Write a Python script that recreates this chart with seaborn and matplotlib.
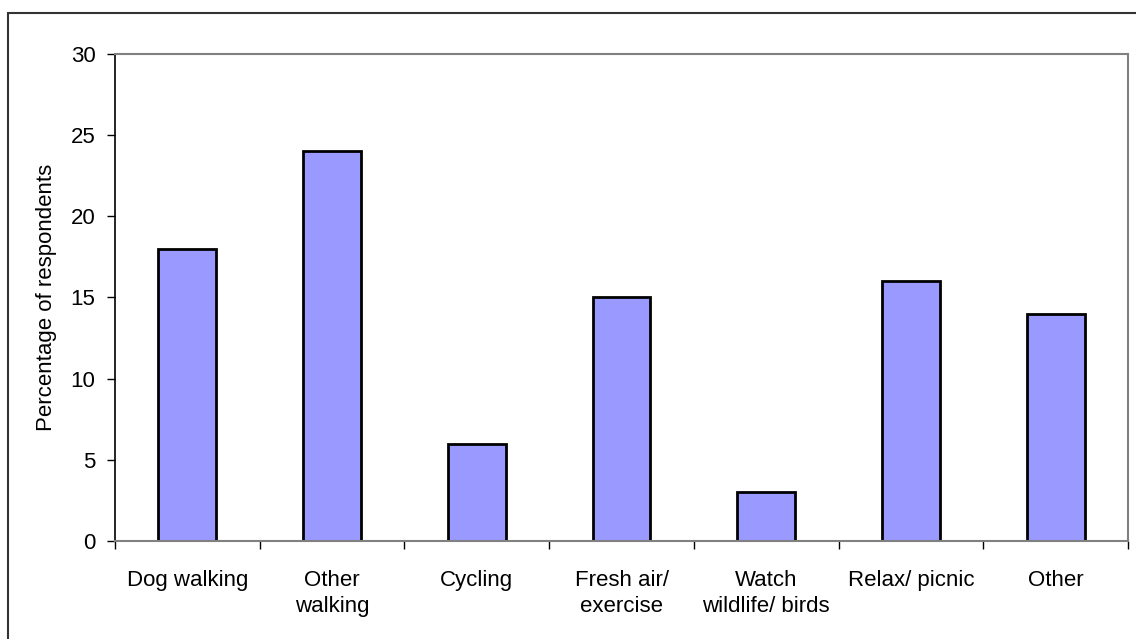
import seaborn as sns
import matplotlib.pyplot as plt
import matplotlib.patches as mpatches
import pandas as pd

# -----------------------------
# Data
# -----------------------------
activities = ["Dog walking", "Other\nwalking", "Cycling", "Fresh air/\nexercise",
              "Watch\nwildlife/ birds", "Relax/ picnic", "Other"]
percent = [18, 24, 6, 15, 3, 16, 14]

df = pd.DataFrame({"Activity": activities, "Percent": percent})

# -----------------------------
# Styling
# -----------------------------
sns.set_style("white")
plt.rcParams["font.family"] = ["Liberation Sans", "DejaVu Sans"]
plt.rcParams["text.color"] = "black"
plt.rcParams["axes.labelcolor"] = "black"
plt.rcParams["xtick.color"] = "black"
plt.rcParams["ytick.color"] = "black"

fig = plt.figure(figsize=(11.36, 6.39), dpi=100)
ax = fig.add_axes([0.1012, 0.1534, 0.8918, 0.7621])

sns.barplot(data=df, x="Activity", y="Percent", color="#9999FF",
            saturation=1, width=0.4, edgecolor="black", linewidth=2, ax=ax)

ax.set_ylim(0, 30)
ax.set_xlim(-0.5, len(activities) - 0.5)
ax.set_yticks(range(0, 31, 5))
ax.set_xlabel("")
ax.set_ylabel("Percentage of respondents", fontsize=16, labelpad=10)

# category labels without ticks, ticks on the boundaries
ax.tick_params(axis="x", which="major", length=0, labelsize=16, pad=21)
ax.set_xticks([i - 0.5 for i in range(len(activities) + 1)], minor=True)
ax.tick_params(axis="x", which="minor", length=6, width=1, direction="out",
               color="black", bottom=True)
ax.tick_params(axis="y", length=6, width=1, direction="out", left=True,
               labelsize=16, pad=8, color="black")
for lbl in ax.get_xticklabels():
    lbl.set_linespacing(1.3)

for side in ["top", "right", "bottom"]:
    ax.spines[side].set_color("#808080")
    ax.spines[side].set_linewidth(1.5)
ax.spines["left"].set_color("black")
ax.spines["left"].set_linewidth(1.2)

# outer chart frame
fig.patches.append(mpatches.Rectangle((8 / 1136, -0.05), 1.1, 1.05 - 13 / 639,
                                      transform=fig.transFigure, fill=False,
                                      edgecolor="#333333", linewidth=1.5))

plt.savefig("out.png", dpi=100)
plt.close()
